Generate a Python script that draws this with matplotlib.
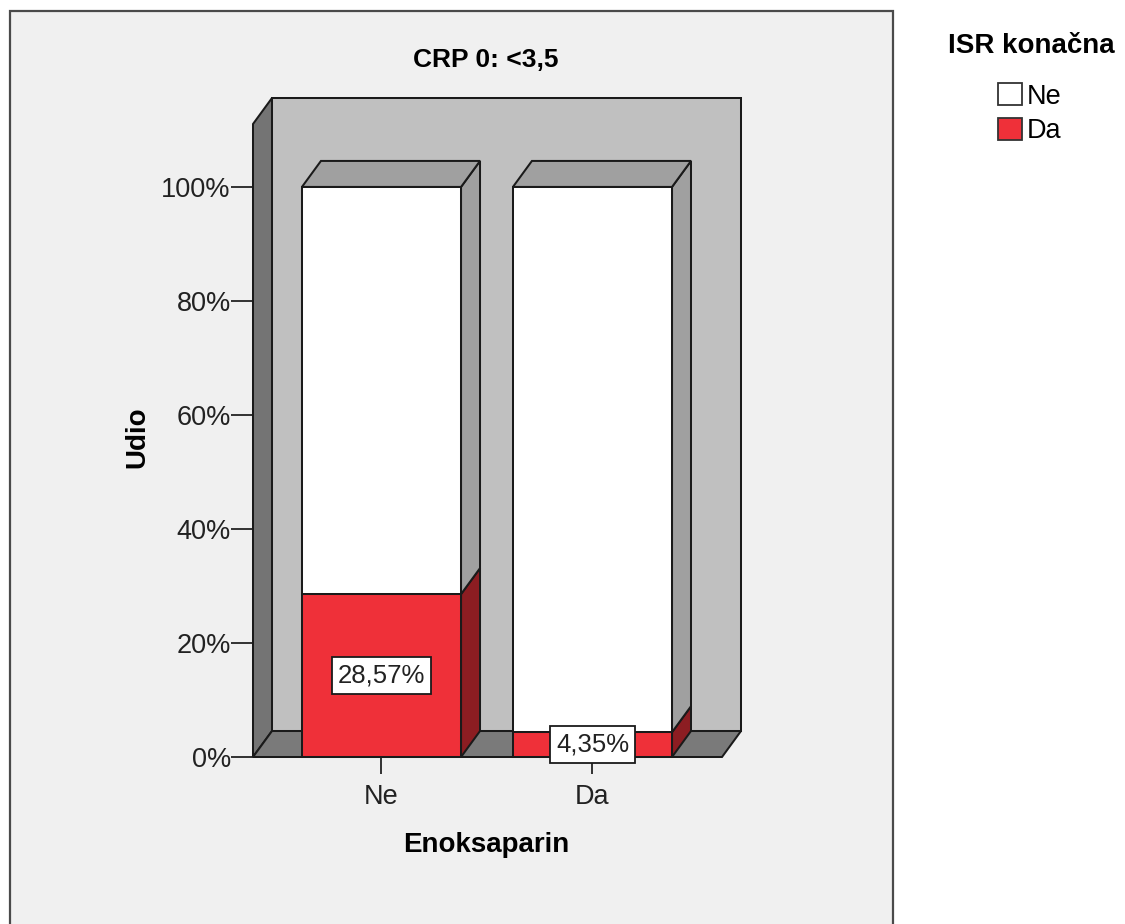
import matplotlib
matplotlib.use("Agg")
import matplotlib.pyplot as plt
from matplotlib.patches import Polygon, Rectangle, Patch

plt.rcParams['font.family'] = ['Liberation Sans', 'DejaVu Sans']

# ---- data ----
categories = ['Ne', 'Da']            # Enoksaparin
isr_levels = ['Ne', 'Da']            # ISR konačna
pct_isr_da = [28.57, 4.35]
pct_isr_ne = [71.43, 95.65]
y_ticks = [0, 20, 40, 60, 80, 100]
title = 'CRP 0: <3,5'

# ---- style ----
W, H = 1125, 924
red_front = '#EF3039'
red_side = '#8C1D22'
white_front = '#FFFFFF'
white_side = '#A0A0A0'
top_col = '#A0A0A0'
wall_col = '#C0C0C0'
lwall_col = '#747474'
floor_col = '#7A7A7A'
edge = '#1A1A1A'
LW = 1.45

fig = plt.figure(figsize=(W / 100, H / 100), dpi=100)
fig.patch.set_facecolor('white')
fig.patches.append(Rectangle((10 / W, -0.05), (893 - 10) / W, (H - 11) / H + 0.05,
                             transform=fig.transFigure, facecolor='#F0F0F0',
                             edgecolor='#4A4A4A', lw=1.6, zorder=-10))

ax = fig.add_axes([253 / W, (H - 757) / H, (741 - 253) / W, (757 - 98) / H])
XMIN, XMAX = -0.609, 1.704
YMAX = 115.6
ax.set_xlim(XMIN, XMAX)
ax.set_ylim(0, YMAX)
ax.patch.set_visible(False)
for s in ax.spines.values():
    s.set_visible(False)

DX, DY = 0.09, 4.56   # depth offset in data units
HALF = 0.377          # half bar width


def poly(pts, fc, z):
    ax.add_patch(Polygon(pts, closed=True, facecolor=fc, edgecolor=edge,
                         lw=LW, joinstyle='miter', zorder=z, clip_on=False))


# back wall
poly([(XMIN + DX, DY), (XMAX, DY), (XMAX, YMAX), (XMIN + DX, YMAX)], wall_col, 1)
# left wall
poly([(XMIN, 0), (XMIN + DX, DY), (XMIN + DX, YMAX), (XMIN, YMAX - DY)], lwall_col, 2)
# floor
poly([(XMIN, 0), (XMAX - DX, 0), (XMAX, DY), (XMIN + DX, DY)], floor_col, 2)

# bars
for i, cat in enumerate(categories):
    x0, x1 = i - HALF, i + HALF
    segs = [(0, pct_isr_da[i], red_front, red_side),
            (pct_isr_da[i], pct_isr_da[i] + pct_isr_ne[i], white_front, white_side)]
    for (b, t, fc, sc) in segs:
        poly([(x1, b), (x1 + DX, b + DY), (x1 + DX, t + DY), (x1, t)], sc, 3)
        poly([(x0, b), (x1, b), (x1, t), (x0, t)], fc, 4)
    t = pct_isr_da[i] + pct_isr_ne[i]
    poly([(x0, t), (x1, t), (x1 + DX, t + DY), (x0 + DX, t + DY)], top_col, 3)
    lab = f'{pct_isr_da[i]:.2f}%'.replace('.', ',')
    ax.text(i, pct_isr_da[i] / 2, lab, ha='center', va='center', fontsize=18.5,
            color='#222222', zorder=6,
            bbox=dict(boxstyle='square,pad=0.24', facecolor='white',
                      edgecolor=edge, lw=1.3))

# ticks
ax.set_yticks(y_ticks)
ax.set_yticklabels([f'{v}%' for v in y_ticks])
ax.set_xticks(range(len(categories)))
ax.set_xticklabels(categories)
ax.tick_params(axis='y', length=15.5, width=1.3, pad=0.5, labelsize=19.5,
               direction='out', colors='#222222')
ax.tick_params(axis='x', length=12, width=1.3, pad=7.5, labelsize=19.5,
               direction='out', colors='#222222')

# labels
ax.text(0.477, 1.0577, title, transform=ax.transAxes, ha='center', va='center',
        fontsize=19, fontweight='bold')
ax.text(0.477, -0.1335, 'Enoksaparin', transform=ax.transAxes, ha='center',
        va='center', fontsize=20, fontweight='bold')
ax.text(-0.2367, 0.4856, 'Udio', transform=ax.transAxes, ha='center',
        va='center', fontsize=20, fontweight='bold', rotation=90)

# legend
fig.text(1031 / W, 1 - 46 / H, 'ISR konačna', ha='center', va='center',
         fontsize=20, fontweight='bold')
handles = [Patch(facecolor=white_front, edgecolor='#333333', lw=1.3),
           Patch(facecolor=red_front, edgecolor='#333333', lw=1.3)]
leg = fig.legend(handles, isr_levels, loc='upper left',
                 bbox_to_anchor=(998 / W, 1 - 83 / H), frameon=False,
                 fontsize=19.5,
                 handlelength=0.9, handleheight=0.9, handletextpad=0.15,
                 labelspacing=0.3, borderpad=0, borderaxespad=0)

fig.savefig('out.png', dpi=100)
